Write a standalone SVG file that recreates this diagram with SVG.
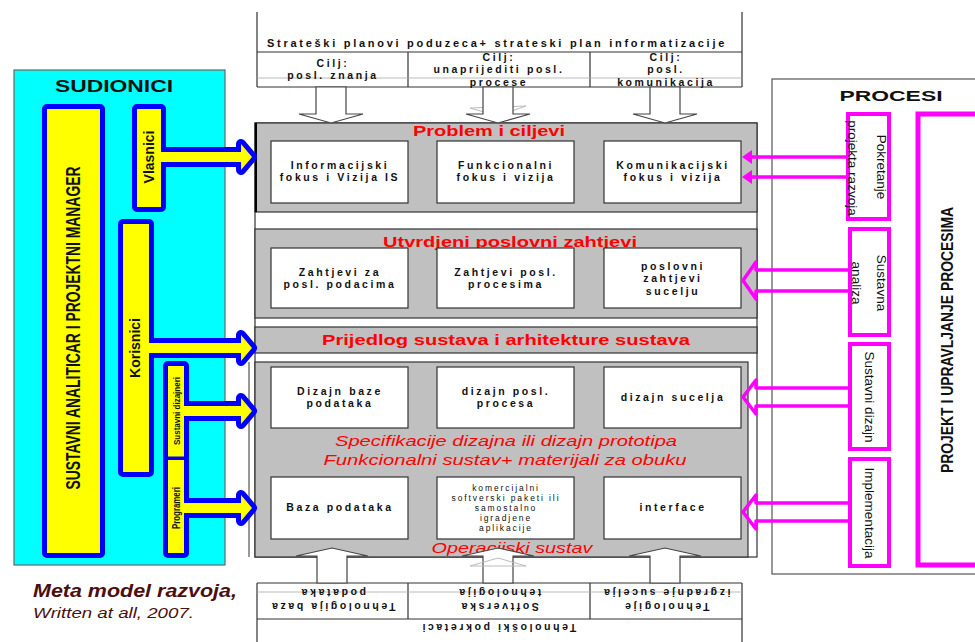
<svg xmlns="http://www.w3.org/2000/svg" width="975" height="642" viewBox="0 0 975 642">
<style>
text{font-family:"Liberation Sans",Arial,sans-serif}
.ln{stroke:#333;stroke-width:1.2;fill:none}
.thin{stroke:#aaa;stroke-width:0.8;fill:none}
.bx{fill:#fff;stroke:#333;stroke-width:1.2}
.gp{fill:#c0c0c0;stroke:#333;stroke-width:1.2}
.ha{fill:#fff;stroke:#444;stroke-width:1.2}
.bt{font-size:10.5px;font-weight:bold;letter-spacing:2.6px;text-anchor:middle;fill:#111}
.st{font-size:8.5px;letter-spacing:1.9px;text-anchor:middle;fill:#111}
.rt{font-size:15px;font-weight:bold;text-anchor:middle;fill:#ff0000}
.ri{font-size:15px;font-style:italic;text-anchor:middle;fill:#ff0000}
.blue{fill:#0000ff;stroke:#0000ff;stroke-width:10;stroke-linejoin:round}
.yel{fill:#ffff00;stroke:none}
.vt{font-weight:bold;text-anchor:middle;fill:#111}
.mg{fill:none;stroke:#ff00ff;stroke-width:4}
.mgl{fill:none;stroke:#ff00ff;stroke-width:3.5;stroke-linejoin:round}
.mt{font-size:13.5px;text-anchor:middle;fill:#111}
</style>

<!-- top strategy box -->
<g id="strategija">
  <path class="ln" d="M257,12 V87 M742,12 V87 M257,52 H742 M257,87 H742 M408,52 V87 M590,52 V87"/>
  <line class="thin" x1="257" y1="78" x2="742" y2="78"/>
  <text class="bt" x="497" y="47" font-size="12.5" letter-spacing="0" textLength="460" lengthAdjust="spacingAndGlyphs">Strateški planovi poduzeca+ strateski plan informatizacije</text>
  <text class="bt" x="333" y="66.5">Cilj:</text>
  <text class="bt" x="333" y="79">posl. znanja</text>
  <text class="bt" x="499" y="60.5">Cilj:</text>
  <text class="bt" x="499" y="73">unaprijediti posl.</text>
  <text class="bt" x="499" y="85.5">procese</text>
  <text class="bt" x="666" y="60.5">Cilj:</text>
  <text class="bt" x="666" y="73">posl.</text>
  <text class="bt" x="666" y="85.5">komunikacija</text>
</g>

<!-- main frame and panels -->
<g id="okvir">
  <rect x="255" y="123" width="502" height="434" fill="#fff" stroke="#333" stroke-width="1.2"/>
  <line x1="249" y1="362" x2="249" y2="557" stroke="#333" stroke-width="1"/>
</g>
<g id="problem-i-ciljevi">
  <rect class="gp" x="255" y="123" width="502" height="89"/>
  <line x1="256" y1="123" x2="256" y2="212" stroke="#000" stroke-width="2"/>
  <text class="rt" x="489" y="136" textLength="152" lengthAdjust="spacingAndGlyphs">Problem i ciljevi</text>
</g>
<g id="poslovni-zahtjevi">
  <rect class="gp" x="255" y="229" width="502" height="89"/>
  <text class="rt" x="510" y="247" textLength="254" lengthAdjust="spacingAndGlyphs">Utvrdjeni poslovni zahtjevi</text>
</g>
<g id="prijedlog-sustava">
  <rect class="gp" x="255" y="327" width="502" height="26"/>
  <text class="rt" x="506" y="345" textLength="368" lengthAdjust="spacingAndGlyphs">Prijedlog sustava i arhitekture sustava</text>
</g>
<g id="dizajn-i-implementacija">
  <rect class="gp" x="255" y="362" width="493" height="195"/>
  <text class="ri" x="506" y="446" textLength="342" lengthAdjust="spacingAndGlyphs">Specifikacije dizajna ili dizajn prototipa</text>
  <text class="ri" x="505" y="465" textLength="363" lengthAdjust="spacingAndGlyphs">Funkcionalni sustav+ materijali za obuku</text>
  <text class="ri" x="512" y="553" textLength="161" lengthAdjust="spacingAndGlyphs">Operacijski sustav</text>
</g>

<!-- inner boxes -->
<g id="informacijski-fokus">
  <rect class="bx" x="271" y="141" width="137" height="62"/>
  <text class="bt" x="340" y="168.5">Informacijski</text>
  <text class="bt" x="340" y="181">fokus i Vizija IS</text>
</g>
<g id="funkcionalni-fokus">
  <rect class="bx" x="437" y="141" width="137" height="62"/>
  <text class="bt" x="506" y="168.5">Funkcionalni</text>
  <text class="bt" x="506" y="181">fokus i vizija</text>
</g>
<g id="komunikacijski-fokus">
  <rect class="bx" x="604" y="141" width="137" height="62"/>
  <text class="bt" x="673" y="168.5">Komunikacijski</text>
  <text class="bt" x="673" y="181">fokus i vizija</text>
</g>
<g id="zahtjevi-podaci">
  <rect class="bx" x="271" y="248" width="137" height="60"/>
  <text class="bt" x="340" y="275.5">Zahtjevi za</text>
  <text class="bt" x="340" y="288">posl. podacima</text>
</g>
<g id="zahtjevi-procesi">
  <rect class="bx" x="437" y="248" width="137" height="60"/>
  <text class="bt" x="506" y="275.5">Zahtjevi posl.</text>
  <text class="bt" x="506" y="288">procesima</text>
</g>
<g id="zahtjevi-sucelje">
  <rect class="bx" x="604" y="248" width="137" height="60"/>
  <text class="bt" x="673" y="269.5">poslovni</text>
  <text class="bt" x="673" y="282">zahtjevi</text>
  <text class="bt" x="673" y="294.5">sucelju</text>
</g>
<g id="dizajn-baze">
  <rect class="bx" x="271" y="367" width="137" height="61"/>
  <text class="bt" x="340" y="394.5">Dizajn baze</text>
  <text class="bt" x="340" y="407">podataka</text>
</g>
<g id="dizajn-procesa">
  <rect class="bx" x="437" y="367" width="137" height="61"/>
  <text class="bt" x="506" y="394.5">dizajn posl.</text>
  <text class="bt" x="506" y="407">procesa</text>
</g>
<g id="dizajn-sucelja">
  <rect class="bx" x="604" y="367" width="137" height="61"/>
  <text class="bt" x="673" y="401">dizajn sucelja</text>
</g>
<g id="baza-podataka">
  <rect class="bx" x="271" y="477" width="137" height="62"/>
  <text class="bt" x="340" y="511">Baza podataka</text>
</g>
<g id="aplikacije">
  <rect class="bx" x="437" y="477" width="137" height="62"/>
  <text class="st" x="506" y="491">komercijalni</text>
  <text class="st" x="506" y="501">softverski paketi ili</text>
  <text class="st" x="506" y="511">samostalno</text>
  <text class="st" x="506" y="521">igradjene</text>
  <text class="st" x="506" y="531">aplikacije</text>
</g>
<g id="interface">
  <rect class="bx" x="604" y="477" width="137" height="62"/>
  <text class="bt" x="673" y="511">interface</text>
</g>

<!-- bottom technology box -->
<g id="tehnologije">
  <path class="ln" d="M257,583 V642 M742,583 V642 M257,583 H742 M257,619 H742 M408,583 V619 M590,583 V619"/>
  <line class="thin" x1="257" y1="592" x2="742" y2="592"/>
  <g transform="rotate(180 332.5 601)">
    <text class="bt" x="332.5" y="599">Tehnologija baza</text>
    <text class="bt" x="332.5" y="613">podataka</text>
  </g>
  <g transform="rotate(180 499 601)">
    <text class="bt" x="499" y="599">Softverska</text>
    <text class="bt" x="499" y="613">tehnologija</text>
  </g>
  <g transform="rotate(180 666 601)">
    <text class="bt" x="666" y="599">Tehnologije</text>
    <text class="bt" x="666" y="613">izgradnje sucelja</text>
  </g>
  <g transform="rotate(180 498 628)">
    <text class="bt" x="498" y="632">Tehnološki pokretaci</text>
  </g>
</g>

<!-- left participants panel -->
<g id="sudionici">
  <rect x="14" y="70" width="211" height="495" fill="#00ffff" stroke="#666" stroke-width="1.2"/>
  <text x="114" y="92" font-size="16" font-weight="bold" text-anchor="middle" fill="#111" textLength="118" lengthAdjust="spacingAndGlyphs">SUDIONICI</text>
</g>

<!-- right process panel -->
<g id="procesi">
  <rect x="772" y="79" width="215" height="495" fill="#fff" stroke="#555" stroke-width="1.2"/>
  <text x="891" y="101" font-size="15" font-weight="bold" text-anchor="middle" fill="#111" textLength="103" lengthAdjust="spacingAndGlyphs">PROCESI</text>
</g>

<!-- connectors -->
<g id="konektori">
  <polygon class="ha" points="316,87 346,87 346,114 363,114 331,123 299,114 316,114"/>
  <polygon points="470,108 498,116 526,106" fill="none" stroke="#bbb" stroke-width="1"/>
  <polygon class="ha" points="483,87 513,87 513,114 530,114 498,123 466,114 483,114"/>
  <polygon class="ha" points="650,87 680,87 680,114 697,114 665,123 633,114 650,114"/>
  <polygon class="ha" points="317,583 317,556 296,556 332,548 368,556 347,556 347,583"/>
  <polygon class="ha" points="483,583 483,556 462,556 498,548 534,556 513,556 513,583"/>
  <polygon points="470,566 498,558 526,566" fill="none" stroke="#bbb" stroke-width="1"/>
  <polygon class="ha" points="650,583 650,556 629,556 665,548 701,556 680,556 680,583"/>

  <path class="mgl" d="M848,157 H750 M848,177 H750"/>
  <polygon points="742,157 752,150 752,164" fill="#ff00ff"/>
  <polygon points="742,177 752,170 752,184" fill="#ff00ff"/>
  <path class="mgl" d="M850,270 H756 V262 L743,280.5 L756,299 V291 H850"/>
  <path class="mgl" d="M850,388 H756 V380 L743,397 L756,414 V406 H850"/>
  <path class="mgl" d="M850,503 H756 V495 L743,512 L756,529 V521 H850"/>
</g>

<!-- participant bars with block arrows -->
<g id="sudionici-trake">
  <g class="blue">
    <rect x="47" y="109" width="53" height="444"/>
    <rect x="137" y="109" width="24" height="98"/>
    <rect x="123" y="224" width="26" height="248"/>
    <rect x="168" y="366" width="16" height="90.5"/>
    <rect x="168" y="460" width="16" height="93"/>
    <path d="M160,152 H241 V144 L252,157 L241,170 V162 H160 Z"/>
    <path d="M148,343 H241 V335 L252,348 L241,361 V353 H148 Z"/>
    <path d="M183,406 H241 V398 L252,411 L241,424 V416 H183 Z"/>
    <path d="M183,503 H241 V495 L252,508 L241,521 V513 H183 Z"/>
  </g>
  <g class="yel">
    <rect x="47" y="109" width="53" height="444"/>
    <rect x="137" y="109" width="24" height="98"/>
    <rect x="123" y="224" width="26" height="248"/>
    <rect x="168" y="366" width="16" height="90.5"/>
    <rect x="168" y="460" width="16" height="93"/>
    <path d="M160,152 H241 V144 L252,157 L241,170 V162 H160 Z"/>
    <path d="M148,343 H241 V335 L252,348 L241,361 V353 H148 Z"/>
    <path d="M183,406 H241 V398 L252,411 L241,424 V416 H183 Z"/>
    <path d="M183,503 H241 V495 L252,508 L241,521 V513 H183 Z"/>
  </g>
</g>
<g id="analiticar">
  <text class="vt" transform="translate(73,328) rotate(-90)" y="7" font-size="20" font-weight="normal" textLength="323" lengthAdjust="spacingAndGlyphs">SUSTAVNI ANALITICAR I PROJEKTNI MANAGER</text>
</g>
<g id="vlasnici">
  <text class="vt" transform="translate(149,157) rotate(-90)" y="5" font-size="14">Vlasnici</text>
</g>
<g id="korisnici">
  <text class="vt" transform="translate(135,348) rotate(-90)" y="5" font-size="14">Korisnici</text>
</g>
<g id="sustavni-dizajneri">
  <text class="vt" transform="translate(176,411) rotate(-90)" y="3.5" font-size="9.5" font-weight="normal" textLength="68" lengthAdjust="spacingAndGlyphs">Sustavni dizajneri</text>
</g>
<g id="programeri">
  <text class="vt" transform="translate(176,508) rotate(-90)" y="3.5" font-size="10" font-weight="normal" textLength="42" lengthAdjust="spacingAndGlyphs">Programeri</text>
</g>

<!-- process boxes -->
<g id="pokretanje">
  <rect class="mg" x="848" y="114" width="41" height="105"/>
  <text class="mt" transform="translate(882,167) rotate(90)" y="5">Pokretanje</text>
  <text class="mt" transform="translate(853,168) rotate(90)" y="5">projekta razvoja</text>
</g>
<g id="sustavna-analiza">
  <rect class="mg" x="850" y="229" width="39" height="106"/>
  <text class="mt" transform="translate(882,283) rotate(90)" y="5">Sustavna</text>
  <text class="mt" transform="translate(857,283) rotate(90)" y="5">analiza</text>
</g>
<g id="sustavni-dizajn">
  <rect class="mg" x="850" y="344" width="39" height="105"/>
  <text class="mt" transform="translate(870,397) rotate(90)" y="5">Sustavni dizajn</text>
</g>
<g id="implementacija">
  <rect class="mg" x="850" y="459" width="39" height="107"/>
  <text class="mt" transform="translate(870,513) rotate(90)" y="5">Implementacija</text>
</g>
<g id="projekt">
  <rect x="918" y="114" width="70" height="451" fill="none" stroke="#ff00ff" stroke-width="5"/>
  <text class="vt" transform="translate(947,340) rotate(-90)" y="6" font-size="17" font-weight="normal" textLength="266" lengthAdjust="spacingAndGlyphs">PROJEKT I UPRAVLJANJE PROCESIMA</text>
</g>

<!-- caption -->
<g id="naslov">
  <text x="33" y="597" font-size="18" font-weight="bold" font-style="italic" fill="#4a0f0f" textLength="204" lengthAdjust="spacingAndGlyphs">Meta model razvoja,</text>
  <text x="33" y="618" font-size="15" font-style="italic" fill="#4a1010" textLength="161" lengthAdjust="spacingAndGlyphs">Written at all, 2007.</text>
</g>
</svg>
